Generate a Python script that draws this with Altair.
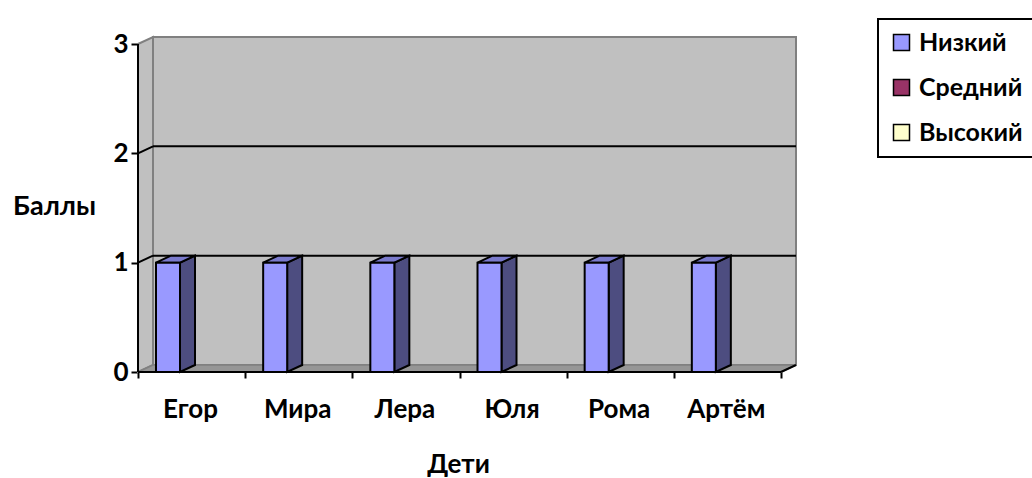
import json
import altair as alt
import pandas as pd

# ---- data ----
categories = ["Егор", "Мира", "Лера", "Юля", "Рома", "Артём"]
series = ["Низкий", "Средний", "Высокий"]
low = [1, 1, 1, 1, 1, 1]
mid = [0, 0, 0, 0, 0, 0]
high = [0, 0, 0, 0, 0, 0]
y_ticks = [0, 1, 2, 3]

front_colors = ["#9999FF", "#993366", "#FFFFCC"]
side_colors = ["#4D4D80", "#4D1A33", "#808066"]
top_colors = ["#7A7ACC", "#7A2952", "#CCCCA3"]

FONT = "Lato, Open Sans"

# ---- geometry (axis units) ----
W, H = 659, 335
PX_X = 643 / 6.0
PX_Y = 328 / 3.0
XMAX = W / PX_X
YMAX = H / PX_Y
DX = 15 / PX_X
DY = 7 / PX_Y
GAP = 18 / PX_X
BW = 24 / PX_X
N = len(categories)

xs = alt.Scale(domain=[0, XMAX], nice=False, zero=False)
ys = alt.Scale(domain=[0, YMAX], nice=False, zero=False)

label_expr = "datum.value < %d ? %s[datum.value] : ''" % (N, json.dumps(categories, ensure_ascii=False))

x_axis = alt.Axis(
    values=list(range(N + 1)), labelExpr=label_expr, labelOffset=52,
    labelFlush=False, labelOverlap=False, labelBound=False,
    domain=False, grid=False, ticks=True, tickSize=6, tickWidth=2, tickColor="black",
    labelFont=FONT, labelFontSize=26, labelFontWeight="bold", labelColor="black",
    labelPadding=18, labelAlign="center",
    title="Дети", titleFont=FONT, titleFontSize=26, titleFontWeight="bold",
    titleColor="black", titleX=320, titleY=92,
    titleAlign="center", titleBaseline="middle")
y_axis = alt.Axis(
    values=y_ticks, domain=False, grid=False, tickSize=7, tickWidth=2,
    tickColor="black", labelFont=FONT, labelFontSize=26, labelFontWeight="bold",
    labelColor="black", labelPadding=3,
    title="Баллы", titleFont=FONT, titleFontSize=27, titleFontWeight="bold",
    titleColor="black", titleAngle=0, titleX=-84, titleY=169,
    titleAlign="center", titleBaseline="middle")

# bars table built from the data arrays
values = {"Низкий": low, "Средний": mid, "Высокий": high}
rows = []
for j, s in enumerate(series):
    for i, c in enumerate(categories):
        v = values[s][i]
        x0 = i + GAP + j * BW
        rows.append(dict(cat=c, series=s, value=v, x0=x0, x1=x0 + BW,
                         side=side_colors[j], top=top_colors[j], key=f"{s}-{c}"))
bars = pd.DataFrame(rows)
bars = bars[bars["value"] > 0]

side_rows, top_rows = [], []
for _, r in bars.iterrows():
    for k in (0, 1):
        side_rows.append(dict(key=r["key"], col=r["side"], x=r["x1"] + k * DX,
                              y=r["value"] + k * DY, y2=k * DY))
        top_rows.append(dict(key=r["key"], col=r["top"], y=r["value"] + k * DY,
                             x=r["x0"] + k * DX, x2=r["x1"] + k * DX))
side_df = pd.DataFrame(side_rows)
top_df = pd.DataFrame(top_rows)

# walls
side_wall = pd.DataFrame({"x": [0, DX], "y": [0, DY], "y2": [3, 3 + DY]})
floor = pd.DataFrame({"y": [0, DY], "x": [0, DX], "x2": [N, N + DX]})
back = pd.DataFrame({"x": [DX], "x2": [N + DX], "y": [DY], "y2": [3 + DY]})
grid_back = pd.DataFrame({"x": [DX] * 2, "x2": [N + DX] * 2,
                          "y": [1 + DY, 2 + DY], "y2": [1 + DY, 2 + DY]})
grid_side = pd.DataFrame({"x": [0] * 2, "x2": [DX] * 2,
                          "y": [1, 2], "y2": [1 + DY, 2 + DY]})


def X(f):
    return alt.X(f"{f}:Q", scale=xs, axis=x_axis)


def Y(f):
    return alt.Y(f"{f}:Q", scale=ys, axis=y_axis)


back_l = alt.Chart(back).mark_rect(
    fill="#C0C0C0", stroke="#808080", strokeWidth=2
).encode(x=X("x"), x2="x2:Q", y=Y("y"), y2="y2:Q")

side_wall_l = alt.Chart(side_wall).mark_area(
    orient="vertical", fill="#C0C0C0", stroke="#808080", strokeWidth=2
).encode(x=X("x"), y=Y("y"), y2="y2:Q")

floor_l = alt.Chart(floor).mark_area(
    orient="horizontal", fill="#969696", stroke="#808080", strokeWidth=1.5
).encode(y=Y("y"), x=X("x"), x2="x2:Q")

grid_b = alt.Chart(grid_back).mark_rule(color="black", strokeWidth=2).encode(
    x=X("x"), x2="x2:Q", y=Y("y"), y2="y2:Q")
grid_s = alt.Chart(grid_side).mark_rule(color="black", strokeWidth=2).encode(
    x=X("x"), x2="x2:Q", y=Y("y"), y2="y2:Q")

side_l = alt.Chart(side_df).mark_area(
    orient="vertical", stroke="black", strokeWidth=2, strokeJoin="miter"
).encode(x=X("x"), y=Y("y"), y2="y2:Q", detail="key:N",
         fill=alt.Fill("col:N", scale=None))

top_l = alt.Chart(top_df).mark_area(
    orient="horizontal", stroke="black", strokeWidth=2, strokeJoin="miter"
).encode(y=Y("y"), x=X("x"), x2="x2:Q", detail="key:N",
         fill=alt.Fill("col:N", scale=None))

front_l = alt.Chart(bars).mark_bar(stroke="black", strokeWidth=2, strokeJoin="miter").encode(
    x=X("x0"),
    x2="x1:Q",
    y=Y("value"),
    y2=alt.datum(0),
    color=alt.Color("series:N", scale=alt.Scale(domain=series, range=front_colors),
                    legend=alt.Legend(
                        title=None, orient="none", legendX=740, legendY=-18,
                        symbolType="square", symbolSize=256, symbolStrokeColor="black",
                        symbolStrokeWidth=1.5, labelFont=FONT, labelFontSize=25,
                        labelFontWeight="bold", labelColor="black", labelOffset=5,
                        rowPadding=19, padding=11, strokeColor="black")),
)

axis_y_line = alt.Chart(pd.DataFrame({"a": [0], "b": [0], "c": [3]})).mark_rule(
    color="black", strokeWidth=2).encode(x=X("a"), y=Y("b"), y2="c:Q")
axis_x_line = alt.Chart(pd.DataFrame({"a": [0], "b": [0], "c": [N]})).mark_rule(
    color="black", strokeWidth=2).encode(y=Y("a"), x=X("b"), x2="c:Q")
floor_edge = alt.Chart(pd.DataFrame({"x": [N], "x2": [N + DX], "y": [0], "y2": [DY]})).mark_rule(
    color="black", strokeWidth=2).encode(x=X("x"), x2="x2:Q", y=Y("y"), y2="y2:Q")

chart = alt.layer(
    back_l, side_wall_l, floor_l, grid_b, grid_s, floor_edge,
    side_l, top_l, front_l, axis_y_line, axis_x_line
).properties(
    width=W, height=H,
    autosize=alt.AutoSizeParams(type="none"),
    padding={"left": 138, "top": 37, "right": 235, "bottom": 106},
    background="white",
).configure_view(stroke=None).configure_legend(strokeWidth=2)

chart.save("out.html", embed_options={"renderer": "svg", "actions": False})
